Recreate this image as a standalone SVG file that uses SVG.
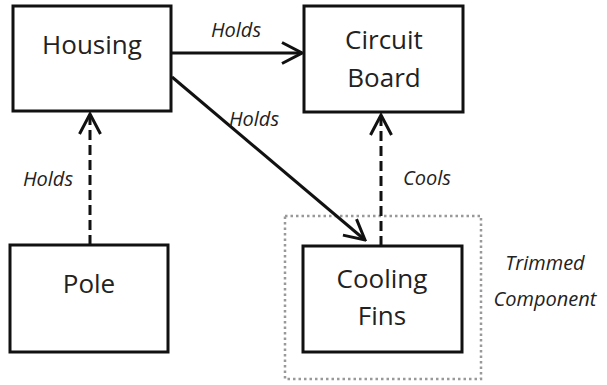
<svg xmlns="http://www.w3.org/2000/svg" width="607" height="385" viewBox="0 0 607 385">
<defs>
<style>
.box{fill:#fff;stroke:#111;stroke-width:3}
.lbl{font-family:"Open Sans","Liberation Sans",sans-serif;font-size:26px;fill:#222;text-anchor:middle}
.el{font-family:"Open Sans","Liberation Sans",sans-serif;font-size:20px;font-style:italic;fill:#222;text-anchor:middle}
.edge{fill:none;stroke:#111;stroke-width:3}
.dash{stroke-dasharray:10 5}
</style>
<marker id="chev" viewBox="0 0 24 24" refX="22" refY="12" markerWidth="24" markerHeight="24" markerUnits="userSpaceOnUse" orient="auto">
<path d="M2,1.5 L22,12 L2,22.5" fill="none" stroke="#111" stroke-width="3"/>
</marker>
</defs>
<rect width="607" height="385" fill="#fff"/>
<g id="trimmed">
<rect x="285" y="216" width="196" height="163" fill="none" stroke="#999" stroke-width="2.5" stroke-dasharray="2.5 3"/>
<text class="el" x="545" y="270">Trimmed</text>
<text class="el" x="545" y="306">Component</text>
</g>
<g id="housing">
<rect class="box" x="13" y="6" width="158" height="105"/>
<text class="lbl" x="92" y="54">Housing</text>
</g>
<g id="circuit-board">
<rect class="box" x="304" y="6" width="159" height="106"/>
<text class="lbl" x="384" y="49">Circuit</text>
<text class="lbl" x="384" y="87">Board</text>
</g>
<g id="pole">
<rect class="box" x="10" y="245" width="158" height="107"/>
<text class="lbl" x="89" y="293">Pole</text>
</g>
<g id="cooling-fins">
<rect class="box" x="303" y="246" width="159" height="106"/>
<text class="lbl" x="382" y="288">Cooling</text>
<text class="lbl" x="382" y="325">Fins</text>
</g>
<g id="connectors">
<line class="edge" x1="171" y1="53" x2="302" y2="53" marker-end="url(#chev)"/>
<line class="edge" x1="172" y1="77" x2="365" y2="240" marker-end="url(#chev)"/>
<line class="edge dash" x1="90" y1="245" x2="90" y2="114" marker-end="url(#chev)"/>
<line class="edge dash" x1="381" y1="246" x2="381" y2="115" marker-end="url(#chev)"/>
<text class="el" x="236" y="37">Holds</text>
<text class="el" x="254" y="126">Holds</text>
<text class="el" x="48" y="186">Holds</text>
<text class="el" x="427" y="185">Cools</text>
</g>
</svg>
